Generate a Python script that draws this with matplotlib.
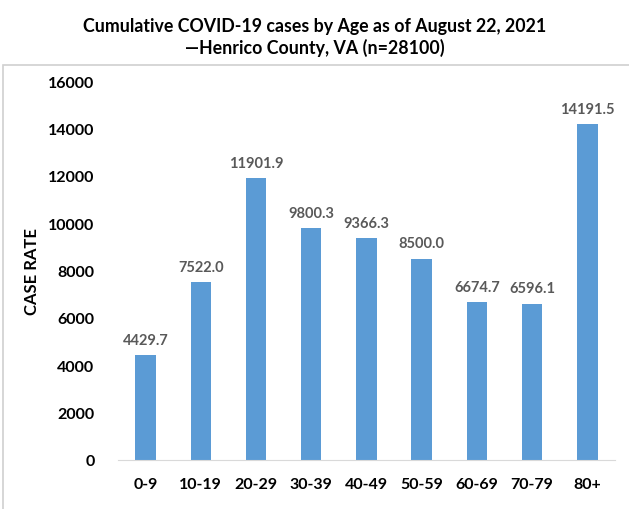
import matplotlib.pyplot as plt
from matplotlib.patches import Rectangle

# data
age_groups = ['0-9', '10-19', '20-29', '30-39', '40-49', '50-59', '60-69', '70-79', '80+']
case_rate = [4429.7, 7522.0, 11901.9, 9800.3, 9366.3, 8500.0, 6674.7, 6596.1, 14191.5]
y_ticks = [0, 2000, 4000, 6000, 8000, 10000, 12000, 14000, 16000]

plt.rcParams['font.family'] = ['Lato', 'DejaVu Sans']

fig = plt.figure(figsize=(6.29, 5.10), dpi=100)
ax = fig.add_axes([0.1876, 0.0961, 0.790, 0.743])

# light border around chart area
fig.patches.append(Rectangle((3 / 629, -0.1), 1.2, (510 - 66) / 510 + 0.1,
                             transform=fig.transFigure, fill=False,
                             edgecolor='#d0d0d0', linewidth=1.2))

bars = ax.bar(range(len(age_groups)), case_rate, width=0.37, color='#5b9bd5')
for i, v in enumerate(case_rate):
    ax.text(i, v + 350, f'{v:.1f}', ha='center', va='bottom',
            fontsize=10.5, fontweight='bold', color='#595959')

ax.set_xlim(-0.5, len(age_groups) - 0.5)
ax.set_ylim(0, 16000)
ax.set_yticks(y_ticks)
ax.set_yticklabels([str(t) for t in y_ticks], fontsize=11.5, fontweight='bold')
ax.set_xticks(range(len(age_groups)))
ax.set_xticklabels(age_groups, fontsize=11.5, fontweight='bold')
ax.tick_params(axis='y', length=0, pad=17)
ax.tick_params(axis='x', length=0, pad=12)
for s in ['top', 'right', 'left']:
    ax.spines[s].set_visible(False)
ax.spines['bottom'].set_color('#d9d9d9')
ax.set_ylabel('CASE RATE', fontsize=12, fontweight='bold', labelpad=6)

fig.text(0.5, 0.965, 'Cumulative COVID-19 cases by Age as of August 22, 2021\n\u2014Henrico County, VA (n=28100)',
         ha='center', va='top', fontsize=12.8, fontweight='bold', linespacing=1.3)

fig.savefig('out.png', dpi=100)
